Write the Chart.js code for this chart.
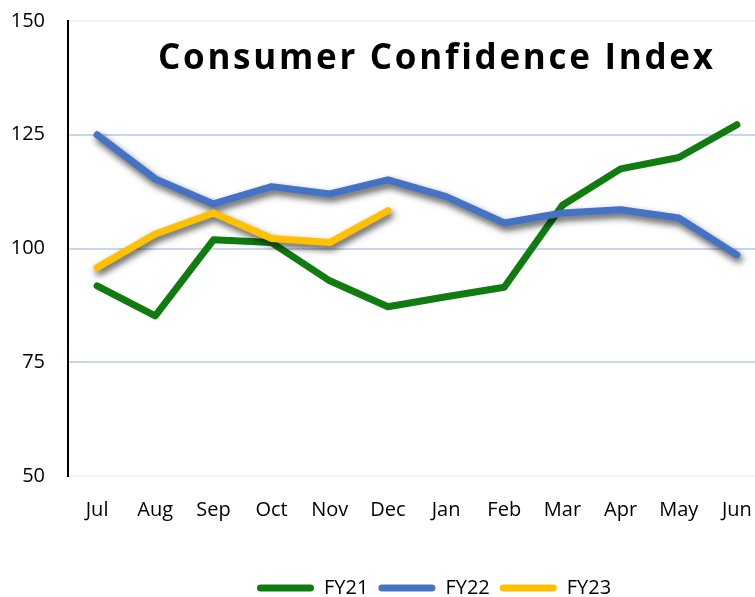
<!DOCTYPE html>
<html lang="en">
<head>
<meta charset="UTF-8">
<title>Consumer Confidence Index</title>
<style>
    html, body { margin: 0; padding: 0; background: #fff; overflow: hidden; }
    .chartBox { width: 766px; height: 597px; }
</style>
</head>
<body>
<div class="chartBox">
    <canvas id="myChart" width="766" height="597"></canvas>
</div>
<script src="https://cdn.jsdelivr.net/npm/chart.js"></script>
<script>
// values
const months = ['Jul', 'Aug', 'Sep', 'Oct', 'Nov', 'Dec', 'Jan', 'Feb', 'Mar', 'Apr', 'May', 'Jun'];
const fy21 = [91.8, 85.2, 101.9, 101.3, 92.9, 87.2, 89.4, 91.5, 109.5, 117.5, 120.0, 127.2];
const fy22 = [125.0, 115.3, 109.8, 113.6, 112.0, 115.1, 111.4, 105.6, 107.8, 108.5, 106.7, 98.6];
const fy23 = [95.8, 103.2, 107.8, 102.2, 101.3, 108.3];
const yMin = 50, yMax = 150, yStep = 25;
const titleText = 'Consumer Confidence Index';

const FONT = "'Open Sans', 'Liberation Sans', sans-serif";

// grey drop shadow under the blue and yellow lines
const shadowPlugin = {
    id: 'lineShadow',
    beforeDatasetDraw(chart, args) {
        const ds = chart.data.datasets[args.index];
        if (!ds.shadow) return;
        const ctx = chart.ctx;
        ctx.save();
        ctx.shadowColor = 'rgba(0, 0, 0, 0.7)';
        ctx.shadowBlur = 7;
        ctx.shadowOffsetX = 2;
        ctx.shadowOffsetY = 4;
    },
    afterDatasetDraw(chart, args) {
        if (chart.data.datasets[args.index].shadow) chart.ctx.restore();
    }
};

// title sits inside the plot area
const titlePlugin = {
    id: 'innerTitle',
    beforeDatasetsDraw(chart) {
        const ctx = chart.ctx;
        const area = chart.chartArea;
        ctx.save();
        ctx.font = 'bold 35px ' + FONT;
        ctx.fillStyle = '#000';
        ctx.textBaseline = 'alphabetic';
        ctx.textAlign = 'left';
        ctx.letterSpacing = '0px';
        const natural = ctx.measureText(titleText).width;
        const spacing = (555 - natural) / (titleText.length - 1);
        ctx.letterSpacing = spacing.toFixed(2) + 'px';
        ctx.fillText(titleText, area.left + 90, area.top + 48);
        ctx.restore();
    }
};

// move the legend so it lines up with the reference
const legendShift = {
    id: 'legendShift',
    afterLayout(chart) {
        const lg = chart.legend;
        lg.left = 247;
        lg.right = chart.width;
        lg.top += 11;
        lg.bottom += 11;
    }
};

const ctx = document.getElementById('myChart').getContext('2d');
const myChart = new Chart(ctx, {
    type: 'line',
    data: {
        labels: months,
        datasets: [{
            label: 'FY21',
            data: fy21,
            borderColor: '#107C10',
            backgroundColor: '#107C10',
            order: 3
        }, {
            label: 'FY22',
            data: fy22,
            borderColor: '#4472C4',
            backgroundColor: '#4472C4',
            shadow: true,
            order: 2
        }, {
            label: 'FY23',
            data: fy23,
            borderColor: '#FFC000',
            backgroundColor: '#FFC000',
            shadow: true,
            order: 1
        }]
    },
    options: {
        responsive: false,
        animation: false,
        devicePixelRatio: 1,
        layout: { padding: { left: 0, right: 0, top: 21, bottom: 0 } },
        elements: {
            line: { borderWidth: 7, tension: 0, borderCapStyle: 'round', borderJoinStyle: 'round', fill: false },
            point: { radius: 0, hoverRadius: 0 }
        },
        scales: {
            x: {
                offset: true,
                grid: { display: false, drawTicks: true, tickLength: 22 },
                border: { display: false },
                ticks: { color: '#000', font: { family: FONT, size: 20 }, padding: 0, maxRotation: 0, autoSkip: false },
                afterFit(scale) { scale.height += 35; }
            },
            y: {
                min: yMin,
                max: yMax,
                grid: {
                    drawTicks: true,
                    tickLength: 23,
                    tickColor: 'rgba(0,0,0,0)',
                    lineWidth: 2,
                    color: c => (c.tick && (c.tick.value === yMin || c.tick.value === yMax)) ? '#f1f3f8' : '#c9d6ee'
                },
                border: { display: true, color: '#000', width: 2 },
                ticks: { stepSize: yStep, color: '#000', font: { family: FONT, size: 20 }, padding: 0 },
                afterFit(scale) { scale.width = 68; }
            }
        },
        plugins: {
            title: { display: false },
            tooltip: { enabled: false },
            legend: {
                position: 'bottom',
                align: 'start',
                labels: {
                    color: '#000',
                    font: { family: FONT, size: 20 },
                    boxWidth: 57,
                    boxHeight: 7,
                    padding: 10,
                    generateLabels(chart) {
                        return chart.data.datasets.map((ds, i) => ({
                            text: ds.label,
                            fillStyle: ds.borderColor,
                            strokeStyle: ds.borderColor,
                            lineWidth: 0,
                            borderRadius: 3.5,
                            fontColor: '#000',
                            hidden: false,
                            datasetIndex: i
                        }));
                    }
                }
            }
        }
    },
    plugins: [shadowPlugin, titlePlugin, legendShift]
});
</script>
</body>
</html>
